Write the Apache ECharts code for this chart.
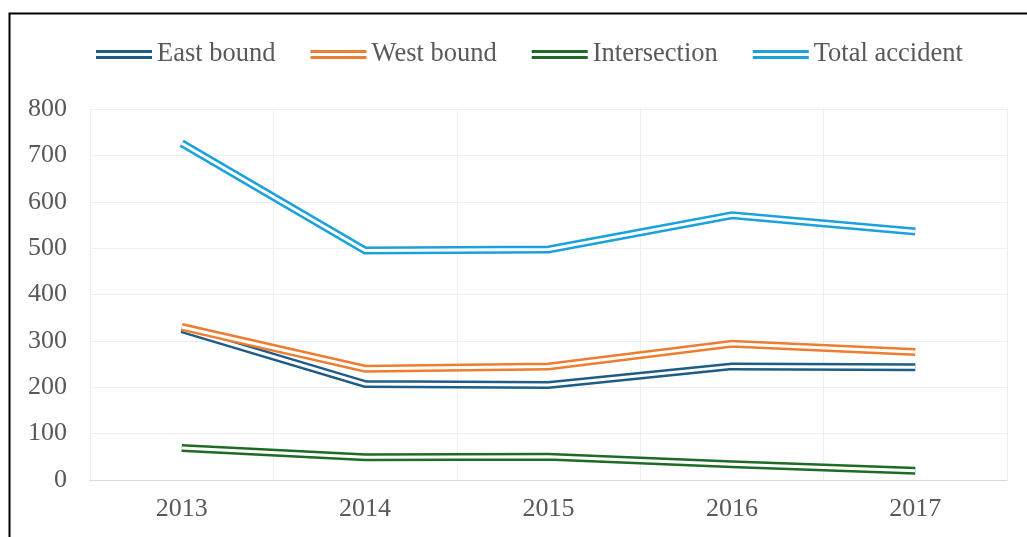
<!DOCTYPE html>
<html>
<head>
<meta charset="utf-8">
<script src="https://cdn.jsdelivr.net/npm/echarts@6/dist/echarts.min.js"></script>
<style>
html,body{margin:0;padding:0;background:#fff;}
#chart{width:1027px;height:537px;}
</style>
</head>
<body>
<div id="chart"></div>
<script>
const categories = ['2013', '2014', '2015', '2016', '2017'];
const seriesNames = ['East bound', 'West bound', 'Intersection', 'Total accident'];
const eastBound = [325, 207, 205, 245, 243];
const westBound = [330, 240, 245, 294, 276];
const intersection = [69, 49, 50, 34, 20];
const totalAccident = [726, 495, 497, 571, 536];
const colors = ['#1f5d86', '#ed7d31', '#1d6b24', '#1ba1dc'];

const values = [eastBound, westBound, intersection, totalAccident];
const font = '"Liberation Serif", "Times New Roman", serif';
const series = [];
values.forEach((v, i) => {
  series.push({
    name: seriesNames[i], type: 'line', data: v, symbol: 'none', z: 2 + i * 2,
    itemStyle: {color: colors[i]},
    lineStyle: {color: colors[i], width: 8, join: 'miter', cap: 'butt'},
    emphasis: {disabled: true}
  });
  series.push({
    name: seriesNames[i] + '_gap', type: 'line', data: v, symbol: 'none', z: 3 + i * 2,
    itemStyle: {color: '#ffffff'},
    lineStyle: {color: '#ffffff', width: 3, join: 'miter', cap: 'butt'},
    emphasis: {disabled: true}
  });
});

const chart = echarts.init(document.getElementById('chart'));
chart.setOption({
  animation: false,
  backgroundColor: '#ffffff',
  graphic: [{
    type: 'rect', left: 7, top: 11, shape: {width: 1040, height: 540},
    style: {fill: 'none', stroke: '#000', lineWidth: 2}, z: 100, silent: true
  }],
  legend: {
    data: seriesNames,
    left: 91, top: 36,
    icon: 'path://M0,0H56V3H0Z M0,6H56V9H0Z',
    itemWidth: 56, itemHeight: 9, itemGap: 35,
    itemStyle: {borderWidth: 0},
    textStyle: {fontFamily: font, fontSize: 26.5, color: '#595959', padding: [0, 0, 0, 0]}
  },
  grid: {left: 90, right: 20, top: 109, bottom: 57, containLabel: false},
  xAxis: {
    type: 'category', data: categories, boundaryGap: true,
    axisLine: {show: true, lineStyle: {color: '#d9d9d9', width: 1}},
    axisTick: {show: false},
    splitLine: {show: true, lineStyle: {color: '#efefef', width: 1}},
    axisLabel: {fontFamily: font, fontSize: 26, color: '#595959', margin: 16}
  },
  yAxis: {
    type: 'value', min: 0, max: 800, interval: 100,
    axisLine: {show: false}, axisTick: {show: false},
    splitLine: {show: true, lineStyle: {color: '#efefef', width: 1}},
    axisLabel: {fontFamily: font, fontSize: 26, color: '#595959', margin: 23}
  },
  series: series
});
</script>
</body>
</html>
